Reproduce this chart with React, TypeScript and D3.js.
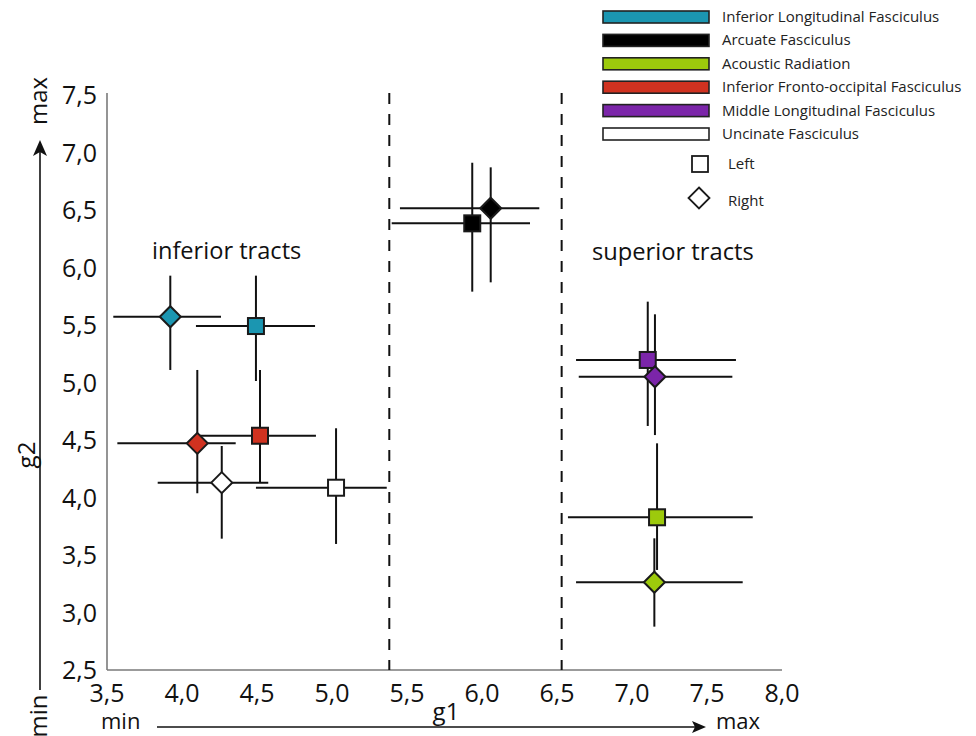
import React from "react";
import * as d3 from "d3";

const tracts = [
  "Inferior Longitudinal Fasciculus",
  "Arcuate Fasciculus",
  "Acoustic Radiation",
  "Inferior Fronto-occipital Fasciculus",
  "Middle Longitudinal Fasciculus",
  "Uncinate Fasciculus",
];
const tractColors = ["#1b96b1", "#000000", "#9dca0c", "#d03220", "#7b25a9", "#ffffff"];

// side: L = Left (square), R = Right (diamond)
const pointTract = [0, 0, 3, 3, 5, 5, 1, 1, 4, 4, 2, 2];
const pointSide = ["R", "L", "R", "L", "R", "L", "R", "L", "L", "R", "L", "R"];
const g1Values = [3.922, 4.493, 4.102, 4.52, 4.265, 5.027, 6.058, 5.935, 7.105, 7.153, 7.167, 7.149];
const g2Values = [5.572, 5.491, 4.471, 4.537, 4.129, 4.085, 6.515, 6.384, 5.196, 5.05, 3.828, 3.263];
const g1Low = [3.542, 4.093, 3.569, 4.12, 3.838, 4.493, 5.453, 5.398, 6.627, 6.645, 6.573, 6.627];
const g1High = [4.26, 4.887, 4.358, 4.893, 4.575, 5.365, 6.382, 6.32, 7.693, 7.669, 7.805, 7.738];
const g2Low = [5.109, 5.013, 4.037, 4.129, 3.642, 3.596, 5.871, 5.79, 4.622, 4.543, 3.37, 2.877];
const g2High = [5.929, 5.929, 5.109, 5.109, 4.448, 4.602, 6.871, 6.911, 5.703, 5.593, 4.471, 3.645];

const dividers = [5.382, 6.531];
const xTicks = [3.5, 4.0, 4.5, 5.0, 5.5, 6.0, 6.5, 7.0, 7.5, 8.0];
const yTicks = [2.5, 3.0, 3.5, 4.0, 4.5, 5.0, 5.5, 6.0, 6.5, 7.0, 7.5];

const FONT = "'Open Sans', 'Noto Sans', sans-serif";

export default function App() {
  const x = d3.scaleLinear().domain([3.5, 8.0]).range([107, 782]);
  const y = d3.scaleLinear().domain([2.5, 7.5]).range([670, 95]);
  const fmt = (v: number) => d3.format(".1f")(v).replace(".", ",");
  const sq = 16;
  const dm = 10.5;
  const diamond = (cx: number, cy: number, r: number) =>
    `M${cx},${cy - r}L${cx + r},${cy}L${cx},${cy + r}L${cx - r},${cy}Z`;

  const legendX = 603;
  const legendY0 = 11;
  const legendStep = 23.4;

  return (
    <svg
      width={976}
      height={736}
      style={{ position: "absolute", left: 0, top: 0, background: "#fff" }}
      fontFamily={FONT}
    >
      <rect width={976} height={736} fill="#fff" />
      {/* axes */}
      <line x1={x(3.5)} y1={y(2.5)} x2={x(3.5)} y2={93} stroke="#7a7a7a" strokeWidth={1.6} />
      <line x1={x(3.5)} y1={y(2.5)} x2={x(8.0)} y2={y(2.5)} stroke="#7a7a7a" strokeWidth={1.6} />
      {/* dividers */}
      {dividers.map((d, i) => (
        <line key={i} x1={x(d)} x2={x(d)} y1={93} y2={y(2.5)} stroke="#111" strokeWidth={2} strokeDasharray="11,10" />
      ))}
      {/* tick labels */}
      {xTicks.map((t) => (
        <text key={"x" + t} x={x(t)} y={702} textAnchor="middle" fontSize={25} fill="#111">
          {fmt(t)}
        </text>
      ))}
      {yTicks.map((t) => (
        <text key={"y" + t} x={97} y={y(t) + 9} textAnchor="end" fontSize={25} fill="#111">
          {fmt(t)}
        </text>
      ))}
      {/* axis titles and arrows */}
      <text x={446} y={720} textAnchor="middle" fontSize={24} fill="#111">g1</text>
      <text x={101} y={729} fontSize={22} fill="#111">min</text>
      <text x={716} y={729} fontSize={22} fill="#111">max</text>
      <line x1={157} x2={696} y1={727} y2={727} stroke="#111" strokeWidth={1.3} />
      <path d="M706,727L692,721L695,727L692,733Z" fill="#111" />
      <line x1={40} x2={40} y1={690} y2={150} stroke="#111" strokeWidth={1.6} />
      <path d="M40,140L33,156L40,152L47,156Z" fill="#111" />
      <text transform="translate(47,101) rotate(-90)" textAnchor="middle" fontSize={24} fill="#111">max</text>
      <text transform="translate(47,716) rotate(-90)" textAnchor="middle" fontSize={24} fill="#111">min</text>
      <text transform="translate(35,455) rotate(-90)" textAnchor="middle" fontSize={24} fill="#111">g2</text>
      {/* region labels */}
      <text x={152} y={259} fontSize={23.6} fill="#111">inferior tracts</text>
      <text x={592} y={260} fontSize={23.7} fill="#111">superior tracts</text>
      {/* error bars */}
      {g1Values.map((v, i) => (
        <g key={"e" + i} stroke="#111" strokeWidth={2}>
          <line x1={x(g1Low[i])} x2={x(g1High[i])} y1={y(g2Values[i])} y2={y(g2Values[i])} />
          <line x1={x(v)} x2={x(v)} y1={y(g2Low[i])} y2={y(g2High[i])} />
        </g>
      ))}
      {/* markers */}
      {g1Values.map((v, i) => {
        const cx = x(v);
        const cy = y(g2Values[i]);
        const fill = tractColors[pointTract[i]];
        return pointSide[i] === "L" ? (
          <rect key={"m" + i} x={cx - sq / 2} y={cy - sq / 2} width={sq} height={sq} fill={fill} stroke="#1a1a1a" strokeWidth={2} />
        ) : (
          <path key={"m" + i} d={diamond(cx, cy, dm)} fill={fill} stroke="#1a1a1a" strokeWidth={2} />
        );
      })}
      {/* legend */}
      {tracts.map((t, i) => (
        <g key={"l" + i}>
          <rect x={legendX} y={legendY0 + i * legendStep} width={106} height={12} fill={tractColors[i]} stroke="#222" strokeWidth={1.6} />
          <text x={722} y={legendY0 + i * legendStep + 11} fontSize={15} fill="#222">{t}</text>
        </g>
      ))}
      <rect x={692} y={156} width={16} height={16} fill="#fff" stroke="#1a1a1a" strokeWidth={1.8} />
      <text x={728} y={169} fontSize={15} fill="#222">Left</text>
      <path d={diamond(699, 198, 10.5)} fill="#fff" stroke="#1a1a1a" strokeWidth={1.8} />
      <text x={728} y={206} fontSize={15} fill="#222">Right</text>
    </svg>
  );
}
